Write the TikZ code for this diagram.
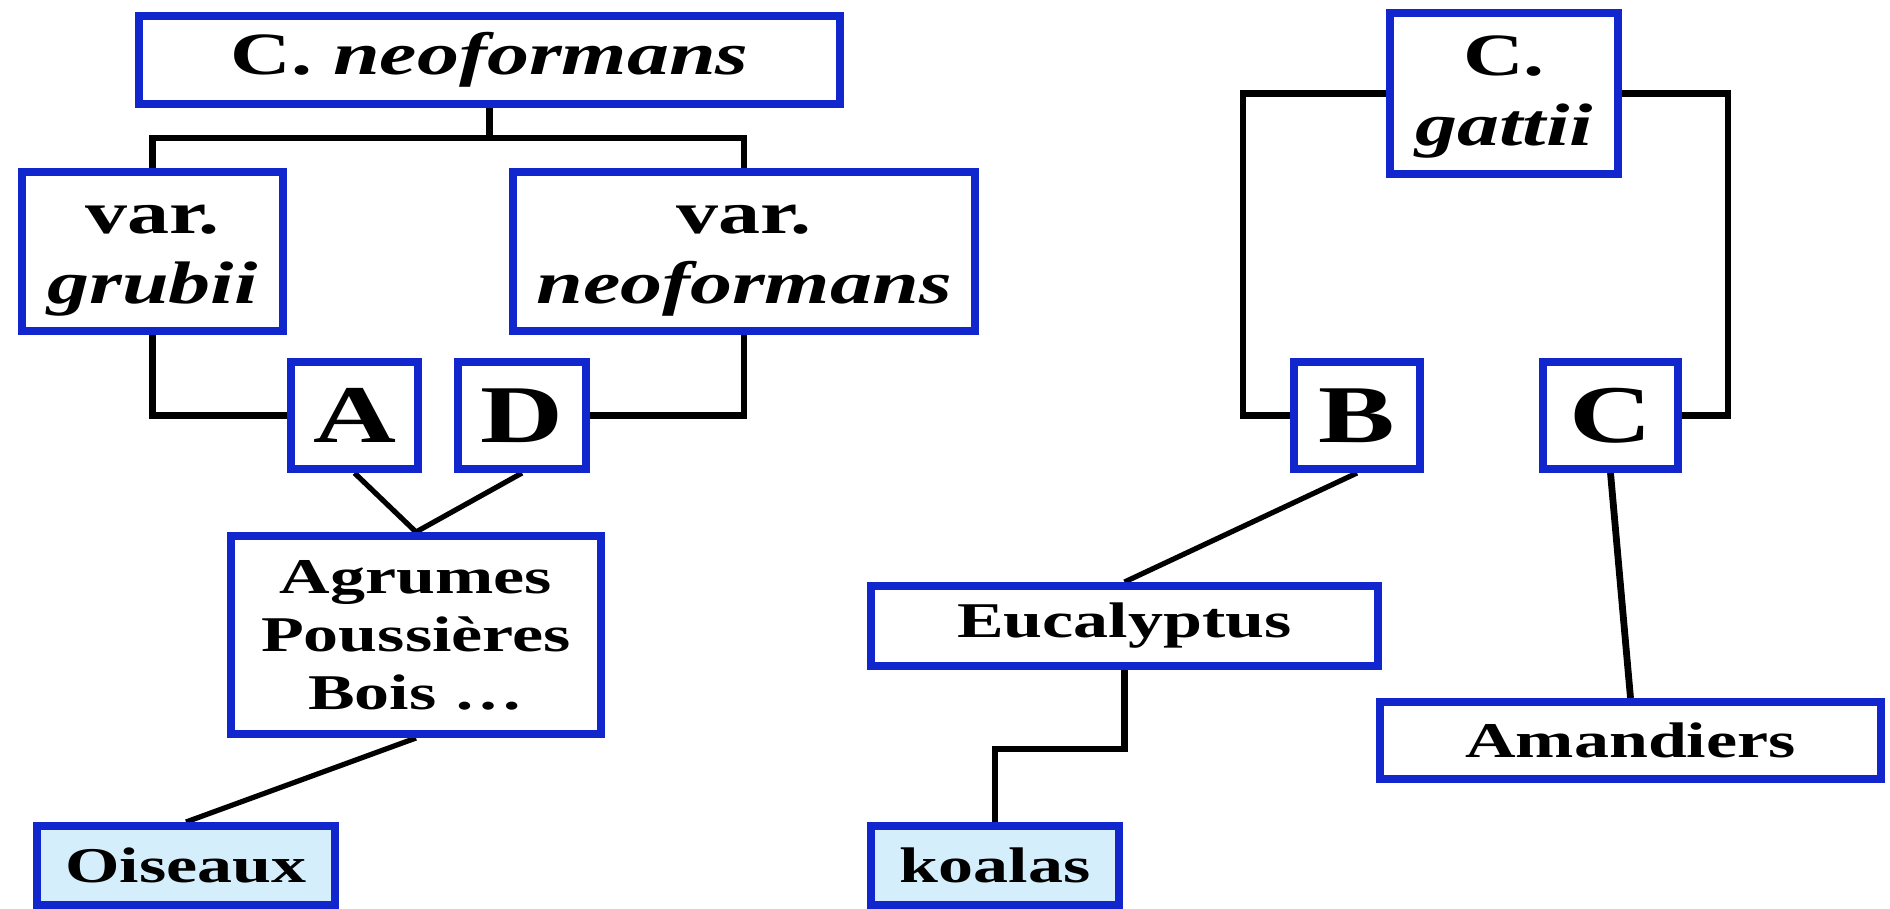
\documentclass[tikz,border=0pt]{standalone}
\usepackage{fontspec}
\setmainfont{Liberation Serif}[FakeStretch=1.4]
\usetikzlibrary{backgrounds}
\definecolor{bxblue}{RGB}{18,38,205}
\definecolor{leafblue}{RGB}{213,238,252}
\newcommand{\fsBig}{\fontsize{30}{35}\selectfont}
\newcommand{\fsMid}{\fontsize{25}{29}\selectfont}
\newcommand{\fsLet}{\fontsize{41}{45}\selectfont}
\tikzset{
  box/.style={draw=bxblue, line width=4pt, fill=white, inner sep=0pt, align=center, text=black},
  leaf/.style={box, fill=leafblue},
  twoline/.style={text height=59pt, text depth=6.6pt},
  conn/.style={line width=3.4pt, black},
  diag/.style={line width=2.6pt, black},
}
\begin{document}
\begin{tikzpicture}[x=0.5pt,y=-0.5pt]
\useasboundingbox (0,0) rectangle (1890,909);
% left tree
\node[box, minimum width=350.5pt, minimum height=44pt, font=\fsBig\bfseries] (cneo) at (489.5,60) {C. \textit{neoformans}};
\node[box, twoline, minimum width=130.5pt, minimum height=79.5pt, font=\fsBig\bfseries] (grubii) at (152.5,251.5) {var.\\\textit{grubii}};
\node[box, twoline, minimum width=231pt, minimum height=79.5pt, font=\fsBig\bfseries] (vneo) at (744,251.5) {var.\\\textit{neoformans}};
\node[box, minimum width=63.5pt, minimum height=53.5pt, font=\fsLet\bfseries] (A) at (354.5,415.5) {A};
\node[box, minimum width=64pt, minimum height=53.5pt, font=\fsLet\bfseries] (D) at (522,415.5) {D};
\node[box, minimum width=185pt, minimum height=99pt, font=\fsMid\bfseries] (agr) at (416,635) {Agrumes\\Poussières\\Bois \dots};
\node[leaf, minimum width=149pt, minimum height=39.5pt, font=\fsMid\bfseries] (ois) at (186,865.5) {Oiseaux};
% right tree
\node[box, twoline, minimum width=114pt, minimum height=80.5pt, font=\fsBig\bfseries] (gattii) at (1504,93.5) {C.\\\textit{gattii}};
\node[box, minimum width=63pt, minimum height=53.5pt, font=\fsLet\bfseries] (B) at (1357,415.5) {B};
\node[box, minimum width=67.5pt, minimum height=53.5pt, font=\fsLet\bfseries] (C) at (1610.5,415.5) {C};
\node[box, minimum width=253.5pt, minimum height=40pt, font=\fsMid\bfseries] (euc) at (1124.5,626) {Eucalyptus};
\node[box, minimum width=250.5pt, minimum height=38.5pt, font=\fsMid\bfseries] (am) at (1630.5,740.5) {Amandiers};
\node[leaf, minimum width=124pt, minimum height=39.5pt, font=\fsMid\bfseries] (koa) at (995,865.5) {koalas};
\coordinate (jn) at (489.5,138);
\coordinate (gl) at (1243,93.5);
\coordinate (gr) at (1728,93.5);
\begin{pgfonlayer}{background}
\draw[conn] (cneo.south) -- (jn);
\draw[conn] (grubii.north) |- (jn) -| (vneo.north);
\draw[conn] (grubii.south) |- (A.west);
\draw[conn] (vneo.south) |- (D.east);
\draw[diag] (A.south) -- (agr.north);
\draw[diag] (D.south) -- (agr.north);
\draw[diag] (agr.south) -- (ois.north);
\draw[conn] (gattii.west) -- (gl) |- (B.west);
\draw[conn] (gattii.east) -- (gr) |- (C.east);
\draw[diag] (B.south) -- (euc.north);
\draw[conn] (C.south) -- (am.north);
\draw[conn] (euc.south) -- ++(0,79) -| (koa.north);
\end{pgfonlayer}
\end{tikzpicture}
\end{document}
